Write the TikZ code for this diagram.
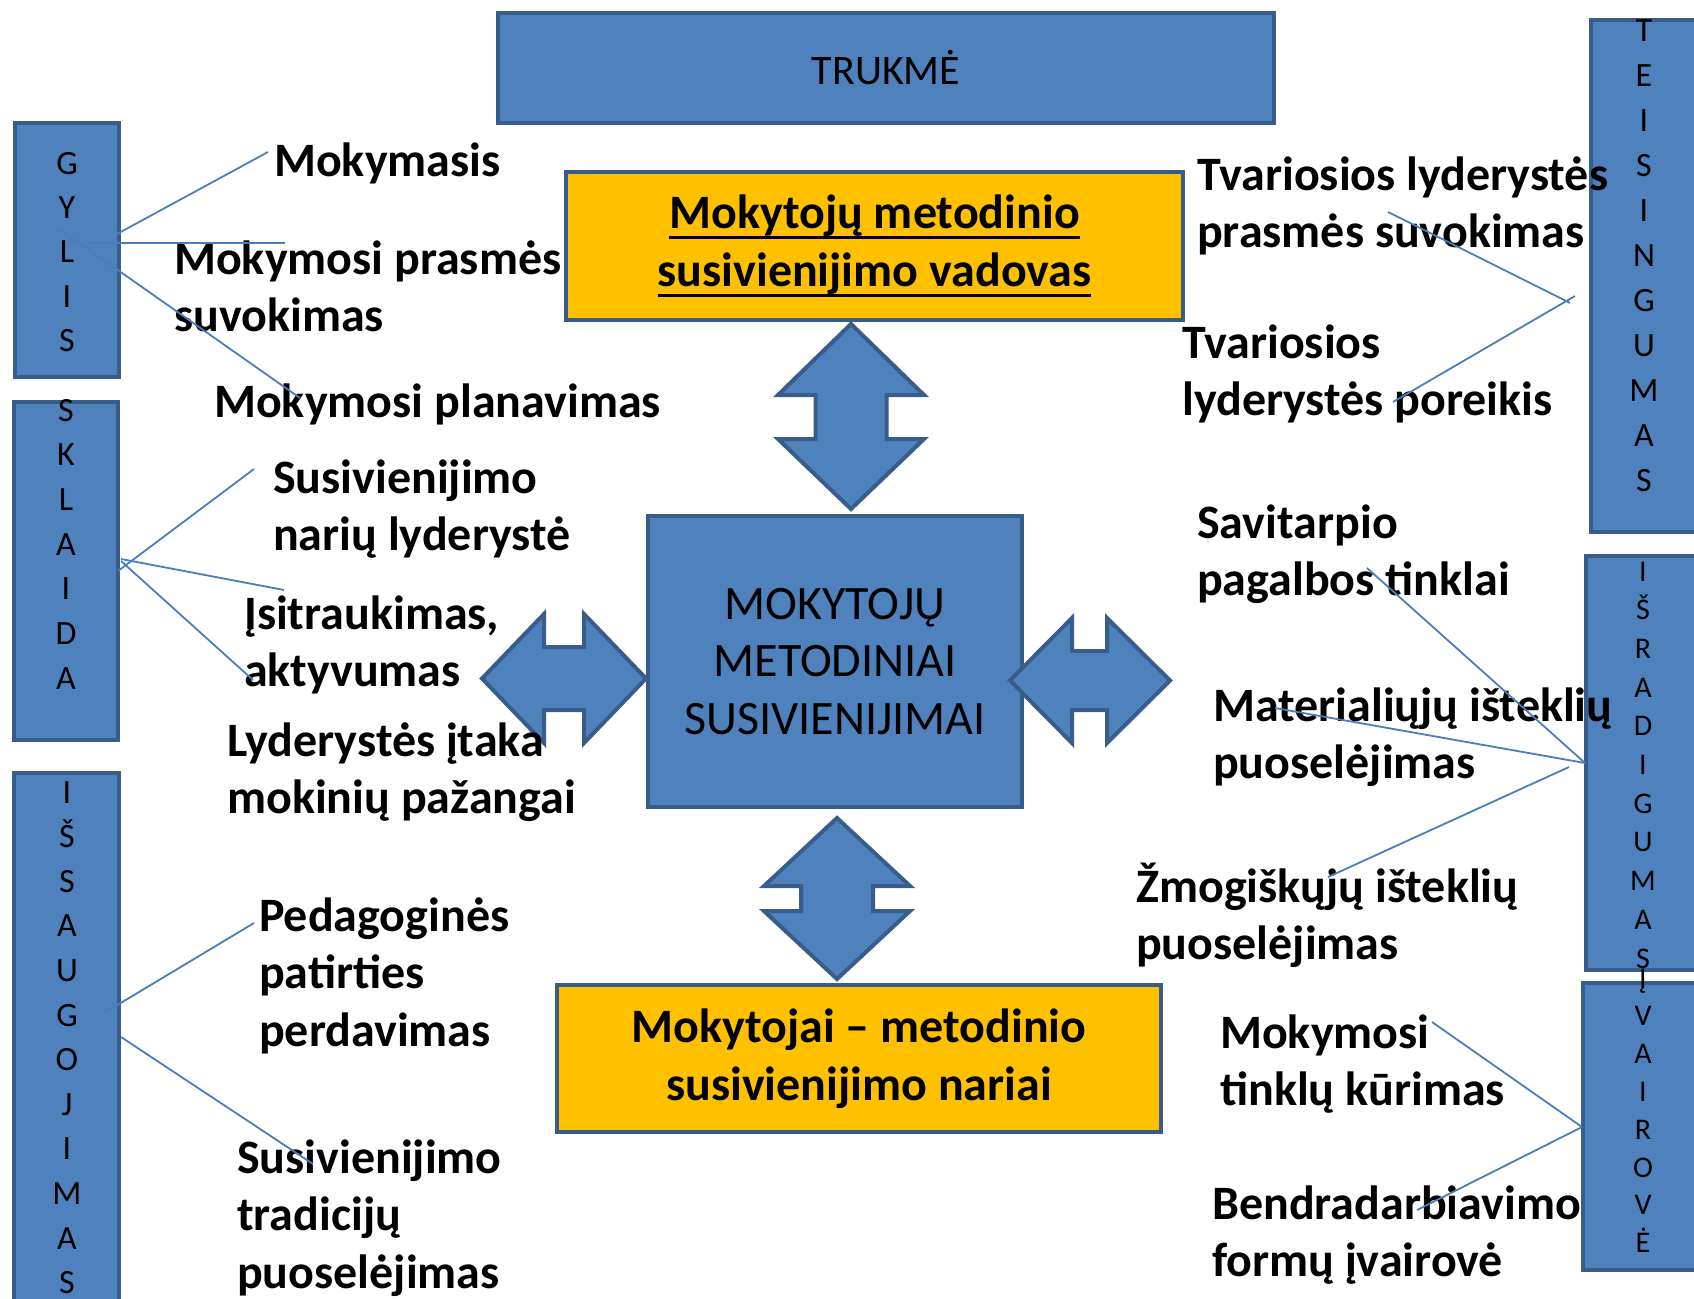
\documentclass[tikz,border=0pt]{standalone}
\usepackage{fontspec}
\setmainfont{Carlito}
\definecolor{boxblue}{HTML}{4F81BD}
\definecolor{boxedge}{HTML}{385D8A}
\definecolor{boxyellow}{HTML}{FFC000}
\definecolor{linkblue}{HTML}{4A7EBB}
\newcommand{\undl}[1]{\setbox0\hbox{#1}\rlap{\rule[-11pt]{\wd0}{3.5pt}}\box0}

\begin{document}
\begin{tikzpicture}[x=1pt, y=-1pt,
    bluebox/.style={draw=boxedge, fill=boxblue, line width=4pt, inner sep=0pt, align=center},
    yellowbox/.style={draw=boxedge, fill=boxyellow, line width=4pt, inner sep=0pt, align=center, font=\bfseries\fontsize{48}{58}\selectfont},
    blockarrow/.style={draw=boxedge, fill=boxblue, line width=4pt},
    link/.style={draw=linkblue, line width=1.8pt},
    lbl/.style={anchor=base west, align=left, inner sep=0pt, font=\bfseries\fontsize{48}{57.5}\selectfont},
    letter/.style={anchor=base, inner sep=0pt, font=\fontsize{34}{40}\selectfont},
    smallletter/.style={anchor=base, inner sep=0pt, font=\fontsize{30}{36}\selectfont}]
        \useasboundingbox (0,0) rectangle (1694,1298);
        % Main boxes
        \node[bluebox, minimum width=776, minimum height=110, font=\fontsize{42}{50}\selectfont] (trukme) at (886,68) {TRUKMĖ};
        \node[yellowbox, minimum width=617, minimum height=148] (vadovas) at (874.5,246) {\undl{Mokytojų metodinio}\\\undl{susivienijimo vadovas}};
        \node[bluebox, minimum width=374, minimum height=291, font=\fontsize{48}{57.5}\selectfont] (centras) at (835,661.5) {MOKYTOJŲ\\METODINIAI\\SUSIVIENIJIMAI};
        \node[yellowbox, minimum width=604, minimum height=147] (nariai) at (859,1058.5) {Mokytojai -- metodinio\\susivienijimo nariai};
        % Double arrows
        \draw[blockarrow] (851,324) -- (924,395) -- (886.5,395) -- (886.5,439) -- (924,439) -- (851,509) -- (778,439) -- (815.5,439) -- (815.5,395) -- (778,395) -- cycle;
        \draw[blockarrow] (837,818) -- (910,886) -- (873,886) -- (873,911) -- (910,911) -- (837,979) -- (764,911) -- (801,911) -- (801,886) -- (764,886) -- cycle;
        \draw[blockarrow] (482,678.5) -- (544,614) -- (544,647) -- (584,647) -- (584,614) -- (646,678.5) -- (584,743) -- (584,710) -- (544,710) -- (544,743) -- cycle;
        \draw[blockarrow] (1010,680.5) -- (1072,618) -- (1072,651) -- (1107,651) -- (1107,618) -- (1170,680.5) -- (1107,743) -- (1107,710) -- (1072,710) -- (1072,743) -- cycle;
        % Side boxes
        \node[bluebox, minimum width=104, minimum height=254] (gylis) at (67,250) {};
        \node[bluebox, minimum width=104, minimum height=338] (sklaida) at (66,571) {};
        \node[bluebox, minimum width=105, minimum height=545] (issaugojimas) at (66.5,1045.5) {};
        \node[bluebox, minimum width=107, minimum height=512] (teisingumas) at (1644.5,276) {};
        \node[bluebox, minimum width=112, minimum height=414] (isradigumas) at (1642,763) {};
        \node[bluebox, minimum width=115, minimum height=287] (ivairove) at (1640.5,1126.5) {};
        % Letters
        \foreach \ch [count=\k from 0] in {G,Y,L,I,S}
            \node[letter] (gylis-\k) at (67,174+44.4*\k) {\ch};
        \foreach \ch [count=\k from 0] in {S,K,L,A,I,D,A}
            \node[letter] (sklaida-\k) at (66,421+44.7*\k) {\ch};
        \foreach \ch [count=\k from 0] in {I,Š,S,A,U,G,O,J,I,M,A,S}
            \node[letter] (issaugojimas-\k) at (67,803+44.6*\k) {\ch};
        \foreach \ch [count=\k from 0] in {T,E,I,S,I,N,G,U,M,A,S}
            \node[letter] (teisingumas-\k) at (1644,42+44.9*\k) {\ch};
        \foreach \ch [count=\k from 0] in {I,Š,R,A,D,I,G,U,M,A,S}
            \node[smallletter] (isradigumas-\k) at (1643,581+38.7*\k) {\ch};
        \foreach \ch [count=\k from 0] in {Į,V,A,I,R,O,V,Ė}
            \node[smallletter] (ivairove-\k) at (1643,988+37.8*\k) {\ch};
        % Labels left (base = last line)
        \node[lbl] (mokymasis) at (274,176) {Mokymasis};
        \node[lbl] (prasme) at (174,331.5) {Mokymosi prasmės\\suvokimas};
        \node[lbl] (planavimas) at (214,417) {Mokymosi planavimas};
        \node[lbl] (nariulyd) at (273,550.5) {Susivienijimo\\narių lyderystė};
        \node[lbl] (isitraukimas) at (244,686.5) {Įsitraukimas,\\aktyvumas};
        \node[lbl] (itaka) at (227,813.5) {Lyderystės įtaka\\mokinių pažangai};
        \node[lbl] (patirtis) at (259,1046) {Pedagoginės\\patirties\\perdavimas};
        \node[lbl] (tradicijos) at (237,1288) {Susivienijimo\\tradicijų\\puoselėjimas};
        % Labels right
        \node[lbl] (tvariprasme) at (1197,247.5) {Tvariosios lyderystės\\prasmės suvokimas};
        \node[lbl] (poreikis) at (1182,415.5) {Tvariosios\\lyderystės poreikis};
        \node[lbl] (tinklai) at (1197,595.5) {Savitarpio\\pagalbos tinklai};
        \node[lbl] (materialus) at (1213,778.5) {Materialiųjų išteklių\\puoselėjimas};
        \node[lbl] (zmogiskieji) at (1136,959.5) {Žmogiškųjų išteklių\\puoselėjimas};
        \node[lbl] (kurimas) at (1220,1105.5) {Mokymosi\\tinklų kūrimas};
        \node[lbl] (formos) at (1212,1276.5) {Bendradarbiavimo\\formų įvairovė};
        % Link ends
        \coordinate (g1a) at (117,234);  \coordinate (g1b) at (268,152);
        \coordinate (g2a) at (88,243);   \coordinate (g2b) at (285,243);
        \coordinate (g3a) at (58,228);   \coordinate (g3b) at (300,398);
        \coordinate (s1a) at (118,571);  \coordinate (s1b) at (254,469);
        \coordinate (s2a) at (121,559);  \coordinate (s2b) at (284,590);
        \coordinate (s3a) at (121,561);  \coordinate (s3b) at (253,680);
        \coordinate (i1a) at (104,1013); \coordinate (i1b) at (254,923);
        \coordinate (i2a) at (121,1037); \coordinate (i2b) at (313,1164);
        \coordinate (t1a) at (1570,303); \coordinate (t1b) at (1388,212);
        \coordinate (t2a) at (1575,296); \coordinate (t2b) at (1393,402);
        \coordinate (r0) at (1585,763);
        \coordinate (r1b) at (1367,568); \coordinate (r2b) at (1275,708);
        \coordinate (r3a) at (1569,767); \coordinate (r3b) at (1328,877);
        \coordinate (v0) at (1582,1127);
        \coordinate (v1b) at (1432,1022); \coordinate (v2b) at (1417,1210);
        % Links
        \draw[link] (g1a) -- (g1b);
        \draw[link] (g2a) -- (g2b);
        \draw[link] (g3a) -- (g3b);
        \draw[link] (s1a) -- (s1b);
        \draw[link] (s2a) -- (s2b);
        \draw[link] (s3a) -- (s3b);
        \draw[link] (i1a) -- (i1b);
        \draw[link] (i2a) -- (i2b);
        \draw[link] (t1a) -- (t1b);
        \draw[link] (t2a) -- (t2b);
        \draw[link] (r0) -- (r1b);
        \draw[link] (r0) -- (r2b);
        \draw[link] (r3a) -- (r3b);
        \draw[link] (v0) -- (v1b);
        \draw[link] (v0) -- (v2b);
\end{tikzpicture}
\end{document}
